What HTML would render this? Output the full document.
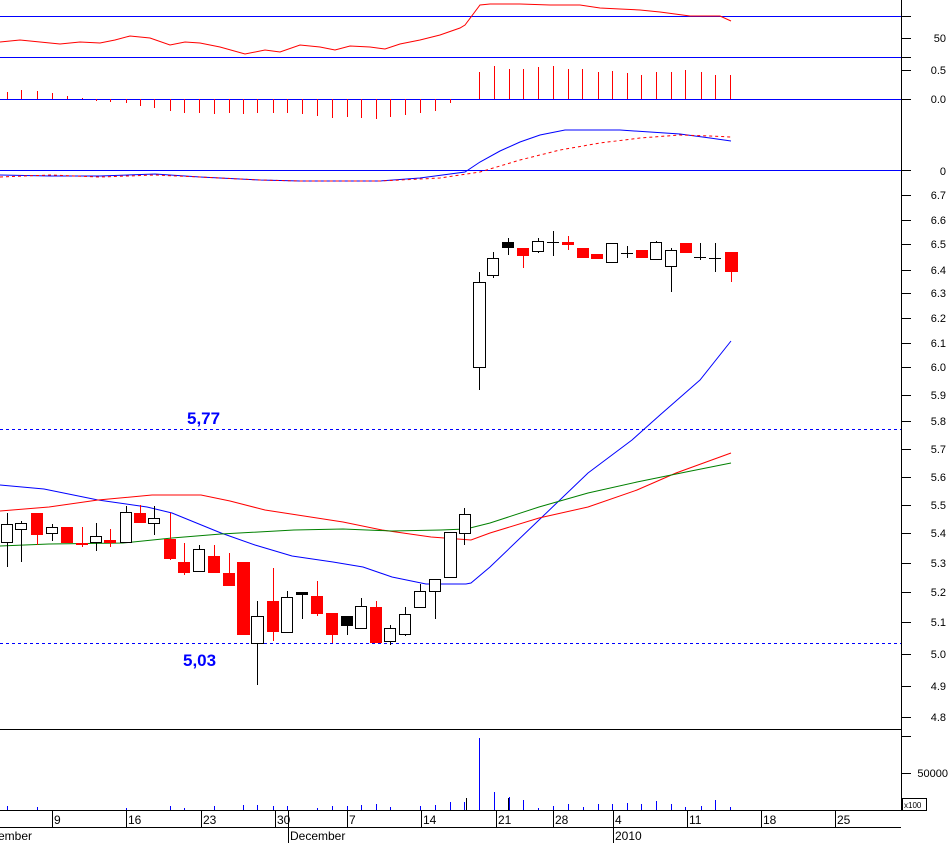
<!DOCTYPE html>
<html><head><meta charset="utf-8"><style>
html,body{margin:0;padding:0;background:#fff;}
svg{display:block;font-family:"Liberation Sans",sans-serif;}
</style></head><body>
<svg width="951" height="843" viewBox="0 0 951 843" xmlns="http://www.w3.org/2000/svg" shape-rendering="crispEdges">
<rect width="951" height="843" fill="#fff"/>
<g stroke="#0000ff" stroke-width="1">
<line x1="0" y1="16.5" x2="901" y2="16.5"/>
<line x1="0" y1="57.5" x2="901" y2="57.5"/>
<line x1="0" y1="99.5" x2="901" y2="99.5"/>
<line x1="0" y1="170.5" x2="901" y2="170.5"/>
</g>
<g stroke="#000" stroke-width="1">
<line x1="0" y1="729.5" x2="901" y2="729.5"/>
<line x1="0" y1="810.5" x2="901" y2="810.5"/>
<line x1="0" y1="827.5" x2="901" y2="827.5"/>
<line x1="901.5" y1="0" x2="901.5" y2="811"/>
</g>
<g stroke="#000">
<line x1="901" y1="16.5" x2="911" y2="16.5"/><line x1="901" y1="38.5" x2="911" y2="38.5"/>
<line x1="901" y1="57.5" x2="911" y2="57.5"/><line x1="901" y1="70.5" x2="911" y2="70.5"/><line x1="901" y1="99.5" x2="911" y2="99.5"/>
<line x1="901" y1="170.5" x2="911" y2="170.5"/>
<line x1="901" y1="195.5" x2="911" y2="195.5"/><line x1="901" y1="220.5" x2="911" y2="220.5"/><line x1="901" y1="244.5" x2="911" y2="244.5"/><line x1="901" y1="270.5" x2="911" y2="270.5"/><line x1="901" y1="293.5" x2="911" y2="293.5"/><line x1="901" y1="318.5" x2="911" y2="318.5"/><line x1="901" y1="343.5" x2="911" y2="343.5"/><line x1="901" y1="367.5" x2="911" y2="367.5"/><line x1="901" y1="395.5" x2="911" y2="395.5"/><line x1="901" y1="421.5" x2="911" y2="421.5"/><line x1="901" y1="449.5" x2="911" y2="449.5"/><line x1="901" y1="477.5" x2="911" y2="477.5"/><line x1="901" y1="505.5" x2="911" y2="505.5"/><line x1="901" y1="533.5" x2="911" y2="533.5"/><line x1="901" y1="563.5" x2="911" y2="563.5"/><line x1="901" y1="592.5" x2="911" y2="592.5"/><line x1="901" y1="622.5" x2="911" y2="622.5"/><line x1="901" y1="654.5" x2="911" y2="654.5"/><line x1="901" y1="686.5" x2="911" y2="686.5"/><line x1="901" y1="717.5" x2="911" y2="717.5"/>
<line x1="901" y1="736.5" x2="911" y2="736.5"/><line x1="901" y1="773.5" x2="911" y2="773.5"/>
</g>
<g font-size="11" fill="#000" text-anchor="end">
<text x="946" y="42">50</text><text x="946" y="74">0.5</text><text x="946" y="103">0.0</text><text x="946" y="175">0</text>
<text x="946" y="199">6.7</text><text x="946" y="224">6.6</text><text x="946" y="248">6.5</text><text x="946" y="274">6.4</text><text x="946" y="297">6.3</text><text x="946" y="322">6.2</text><text x="946" y="347">6.1</text><text x="946" y="371">6.0</text><text x="946" y="399">5.9</text><text x="946" y="425">5.8</text><text x="946" y="453">5.7</text><text x="946" y="481">5.6</text><text x="946" y="509">5.5</text><text x="946" y="537">5.4</text><text x="946" y="567">5.3</text><text x="946" y="596">5.2</text><text x="946" y="626">5.1</text><text x="946" y="658">5.0</text><text x="946" y="690">4.9</text><text x="946" y="721">4.8</text>
<text x="948" y="777">50000</text>
</g>
<rect x="902.5" y="798.5" width="24" height="12" fill="#fff" stroke="#000"/>
<text x="904" y="808" font-size="8">x100</text>
<polyline fill="none" stroke="#ff0000" shape-rendering="auto" points="0,42 20,40 40,42 60,44 80,42 100,43 115,40 130,36 150,38 170,45 185,42 200,43 220,47 245,54 265,50 280,52 300,45 320,47 335,50 350,46 370,47 385,49 400,44 420,40 440,35 460,28 465,25 480,5 490,4 520,4 550,5 580,5 600,8 620,9 640,10 660,12 690,16 720,16 731,21"/>
<g stroke="#ff0000">
<line x1="7.5" y1="92" x2="7.5" y2="99"/><line x1="21.5" y1="90" x2="21.5" y2="99"/><line x1="37.5" y1="91" x2="37.5" y2="99"/><line x1="52.5" y1="93" x2="52.5" y2="99"/><line x1="67.5" y1="96" x2="67.5" y2="99"/><line x1="82.5" y1="98" x2="82.5" y2="99"/>
<line x1="96.5" y1="99" x2="96.5" y2="101"/><line x1="110.5" y1="99" x2="110.5" y2="102"/><line x1="126.5" y1="99" x2="126.5" y2="103"/><line x1="140.5" y1="99" x2="140.5" y2="106"/><line x1="154.5" y1="99" x2="154.5" y2="108"/><line x1="170.5" y1="99" x2="170.5" y2="111"/><line x1="184.5" y1="99" x2="184.5" y2="113"/><line x1="199.5" y1="99" x2="199.5" y2="113"/><line x1="214.5" y1="99" x2="214.5" y2="114"/><line x1="229.5" y1="99" x2="229.5" y2="113"/><line x1="243.5" y1="99" x2="243.5" y2="114"/><line x1="257.5" y1="99" x2="257.5" y2="113"/><line x1="273.5" y1="99" x2="273.5" y2="113"/><line x1="287.5" y1="99" x2="287.5" y2="113"/><line x1="302.5" y1="99" x2="302.5" y2="114"/><line x1="317.5" y1="99" x2="317.5" y2="116"/><line x1="332.5" y1="99" x2="332.5" y2="118"/><line x1="347.5" y1="99" x2="347.5" y2="117"/><line x1="361.5" y1="99" x2="361.5" y2="118"/><line x1="376.5" y1="99" x2="376.5" y2="119"/><line x1="390.5" y1="99" x2="390.5" y2="117"/><line x1="405.5" y1="99" x2="405.5" y2="115"/><line x1="420.5" y1="99" x2="420.5" y2="113"/><line x1="435.5" y1="99" x2="435.5" y2="111"/><line x1="450.5" y1="99" x2="450.5" y2="103"/>
<line x1="479.5" y1="72" x2="479.5" y2="99"/><line x1="494.5" y1="66" x2="494.5" y2="99"/><line x1="509.5" y1="69" x2="509.5" y2="99"/><line x1="523.5" y1="69" x2="523.5" y2="99"/><line x1="538.5" y1="67" x2="538.5" y2="99"/><line x1="553.5" y1="66" x2="553.5" y2="99"/><line x1="568.5" y1="69" x2="568.5" y2="99"/><line x1="582.5" y1="69" x2="582.5" y2="99"/><line x1="598.5" y1="72" x2="598.5" y2="99"/><line x1="612.5" y1="71" x2="612.5" y2="99"/><line x1="627.5" y1="73" x2="627.5" y2="99"/><line x1="641.5" y1="75" x2="641.5" y2="99"/><line x1="656.5" y1="72" x2="656.5" y2="99"/><line x1="671.5" y1="72" x2="671.5" y2="99"/><line x1="685.5" y1="70" x2="685.5" y2="99"/><line x1="701.5" y1="72" x2="701.5" y2="99"/><line x1="715.5" y1="75" x2="715.5" y2="99"/><line x1="730.5" y1="75" x2="730.5" y2="99"/>
</g>
<polyline fill="none" stroke="#0000ff" shape-rendering="auto" points="0,175 50,176 100,176 155,174 200,177 260,180 300,181 380,181 420,178 465,172 480,162 500,151 520,142 540,135 565,130 620,130 650,132 680,134 710,138 731,141"/>
<polyline fill="none" stroke="#ff0000" stroke-dasharray="3,3" shape-rendering="auto" points="0,177 50,175 100,177 155,175 200,177 260,180 300,181 380,181 440,178 480,172 520,160 560,150 600,143 640,138 680,135 710,136 731,137"/>
<g stroke="#0000ff" stroke-dasharray="3,3"><line x1="0" y1="429.5" x2="901" y2="429.5"/><line x1="0" y1="643.5" x2="901" y2="643.5"/></g>
<g font-size="17" font-weight="bold" fill="#0000ff"><text x="187" y="424">5,77</text><text x="183" y="666">5,03</text></g>
<g fill="none" shape-rendering="auto">
<polyline stroke="#0000ff" points="0,485 44,489 98,500 147,507 172,513 221,533 255,545 292,556 333,562 363,567 392,577 426,584 466,584 471,583 490,567 539,520 588,473 632,440 660,415 700,380 731,341"/>
<polyline stroke="#ff0000" points="0,511 49,507 98,500 152,495 201,495 230,501 265,510 304,516 343,522 382,530 431,537 471,540 490,533 539,518 588,507 637,490 676,473 731,453"/>
<polyline stroke="#008000" points="0,546 49,544 123,543 172,538 221,534 294,530 343,529 392,531 441,530 466,529 490,523 539,507 588,493 637,482 686,472 731,463"/>
</g>
<g stroke="#000" stroke-width="1" shape-rendering="crispEdges">
<line x1="7.5" y1="513" x2="7.5" y2="567"/><rect x="1.5" y="524.5" width="11" height="18" fill="#fff"/>
<line x1="21.5" y1="521" x2="21.5" y2="562"/><rect x="15.5" y="523.5" width="11" height="6" fill="#fff"/>
<line x1="52.5" y1="524" x2="52.5" y2="541"/><rect x="46.5" y="527.5" width="11" height="6" fill="#fff"/>
<line x1="96.5" y1="523" x2="96.5" y2="551"/><rect x="90.5" y="536.5" width="11" height="6" fill="#fff"/>
<line x1="126.5" y1="506" x2="126.5" y2="542"/><rect x="120.5" y="512.5" width="11" height="30" fill="#fff"/>
<line x1="154.5" y1="506" x2="154.5" y2="535"/><rect x="148.5" y="518.5" width="11" height="5" fill="#fff"/>
<line x1="199.5" y1="545" x2="199.5" y2="571"/><rect x="193.5" y="549.5" width="11" height="22" fill="#fff"/>
<line x1="257.5" y1="601" x2="257.5" y2="685"/><rect x="251.5" y="616.5" width="12" height="27" fill="#fff"/>
<line x1="287.5" y1="591" x2="287.5" y2="632"/><rect x="281.5" y="597.5" width="11" height="35" fill="#fff"/>
<line x1="302.5" y1="593" x2="302.5" y2="619"/><rect x="296.5" y="592.5" width="11" height="2" fill="#000"/>
<line x1="347.5" y1="616" x2="347.5" y2="635"/><rect x="341.5" y="616.5" width="11" height="9" fill="#000"/>
<line x1="361.5" y1="598" x2="361.5" y2="628"/><rect x="355.5" y="606.5" width="11" height="22" fill="#fff"/>
<line x1="390.5" y1="625" x2="390.5" y2="645"/><rect x="384.5" y="628.5" width="11" height="13" fill="#fff"/>
<line x1="405.5" y1="607" x2="405.5" y2="636"/><rect x="399.5" y="614.5" width="11" height="20" fill="#fff"/>
<line x1="420.5" y1="584" x2="420.5" y2="607"/><rect x="414.5" y="591.5" width="11" height="16" fill="#fff"/>
<line x1="435.5" y1="579" x2="435.5" y2="619"/><rect x="429.5" y="579.5" width="11" height="12" fill="#fff"/>
<line x1="450.5" y1="532" x2="450.5" y2="577"/><rect x="444.5" y="532.5" width="12" height="45" fill="#fff"/>
<line x1="464.5" y1="508" x2="464.5" y2="545"/><rect x="459.5" y="514.5" width="11" height="19" fill="#fff"/>
<line x1="479.5" y1="272" x2="479.5" y2="390"/><rect x="473.5" y="282.5" width="12" height="85" fill="#fff"/>
<line x1="493.5" y1="252" x2="493.5" y2="278"/><rect x="487.5" y="258.5" width="11" height="17" fill="#fff"/>
<line x1="508.5" y1="238" x2="508.5" y2="255"/><rect x="502.5" y="242.5" width="11" height="5" fill="#000"/>
<line x1="538.5" y1="238" x2="538.5" y2="253"/><rect x="532.5" y="241.5" width="11" height="10" fill="#fff"/>
<line x1="553.5" y1="231" x2="553.5" y2="256"/><line x1="547" y1="242.5" x2="559" y2="242.5"/>
<line x1="612.5" y1="243" x2="612.5" y2="262"/><rect x="606.5" y="243.5" width="11" height="19" fill="#fff"/>
<line x1="627.5" y1="246" x2="627.5" y2="258"/><line x1="621" y1="253.5" x2="633" y2="253.5"/>
<line x1="656.5" y1="241" x2="656.5" y2="259"/><rect x="650.5" y="242.5" width="11" height="17" fill="#fff"/>
<line x1="671.5" y1="248" x2="671.5" y2="292"/><rect x="665.5" y="250.5" width="11" height="16" fill="#fff"/>
<line x1="700.5" y1="243" x2="700.5" y2="260"/><line x1="694" y1="257.5" x2="706" y2="257.5"/>
<line x1="715.5" y1="243" x2="715.5" y2="272"/><line x1="709" y1="258.5" x2="721" y2="258.5"/>
</g>
<g fill="#ff0000" stroke="#ff0000">
<line x1="37.5" y1="513" x2="37.5" y2="545"/><rect x="31.5" y="513.5" width="11" height="21"/>
<rect x="61.5" y="527.5" width="11" height="15"/>
<line x1="82.5" y1="527" x2="82.5" y2="547"/><rect x="76.5" y="543.5" width="11" height="1"/>
<line x1="110.5" y1="529" x2="110.5" y2="547"/><rect x="104.5" y="540.5" width="11" height="2"/>
<line x1="140.5" y1="505" x2="140.5" y2="523"/><rect x="134.5" y="513.5" width="11" height="9"/>
<line x1="170.5" y1="513" x2="170.5" y2="560"/><rect x="164.5" y="539.5" width="11" height="19"/>
<line x1="184.5" y1="543" x2="184.5" y2="575"/><rect x="178.5" y="562.5" width="11" height="10"/>
<line x1="214.5" y1="545" x2="214.5" y2="573"/><rect x="208.5" y="556.5" width="11" height="16"/>
<line x1="229.5" y1="553" x2="229.5" y2="586"/><rect x="223.5" y="573.5" width="11" height="12"/>
<rect x="237.5" y="562.5" width="12" height="72"/>
<line x1="273.5" y1="568" x2="273.5" y2="641"/><rect x="267.5" y="601.5" width="11" height="30"/>
<line x1="317.5" y1="581" x2="317.5" y2="616"/><rect x="311.5" y="596.5" width="11" height="17"/>
<line x1="332.5" y1="613" x2="332.5" y2="643"/><rect x="326.5" y="613.5" width="11" height="21"/>
<line x1="376.5" y1="601" x2="376.5" y2="643"/><rect x="370.5" y="607.5" width="11" height="35"/>
<line x1="523.5" y1="248" x2="523.5" y2="268"/><rect x="517.5" y="248.5" width="11" height="7"/>
<line x1="568.5" y1="236" x2="568.5" y2="250"/><rect x="562.5" y="242.5" width="11" height="2"/>
<rect x="577.5" y="248.5" width="11" height="9"/>
<rect x="591.5" y="254.5" width="11" height="4"/>
<rect x="636.5" y="250.5" width="11" height="7"/>
<rect x="680.5" y="243.5" width="11" height="9"/>
<line x1="731.5" y1="252" x2="731.5" y2="282"/><rect x="725.5" y="252.5" width="12" height="19"/>
</g>
<g stroke="#0000ff">
<line x1="7.5" y1="806" x2="7.5" y2="810"/><line x1="37.5" y1="807" x2="37.5" y2="810"/><line x1="126.5" y1="808" x2="126.5" y2="810"/><line x1="170.5" y1="806" x2="170.5" y2="810"/><line x1="184.5" y1="808" x2="184.5" y2="810"/><line x1="214.5" y1="806" x2="214.5" y2="810"/><line x1="243.5" y1="805" x2="243.5" y2="810"/><line x1="257.5" y1="805" x2="257.5" y2="810"/><line x1="273.5" y1="806" x2="273.5" y2="810"/><line x1="287.5" y1="806" x2="287.5" y2="810"/><line x1="317.5" y1="808" x2="317.5" y2="810"/><line x1="332.5" y1="806" x2="332.5" y2="810"/><line x1="347.5" y1="806" x2="347.5" y2="810"/><line x1="361.5" y1="805" x2="361.5" y2="810"/><line x1="376.5" y1="804" x2="376.5" y2="810"/><line x1="390.5" y1="807" x2="390.5" y2="810"/><line x1="420.5" y1="806" x2="420.5" y2="810"/><line x1="435.5" y1="805" x2="435.5" y2="810"/><line x1="450.5" y1="802" x2="450.5" y2="810"/><line x1="464.5" y1="802" x2="464.5" y2="810"/>
<line x1="479.5" y1="738" x2="479.5" y2="810"/><line x1="494.5" y1="792" x2="494.5" y2="810"/><line x1="509.5" y1="797" x2="509.5" y2="810"/><line x1="523.5" y1="800" x2="523.5" y2="810"/><line x1="538.5" y1="808" x2="538.5" y2="810"/><line x1="553.5" y1="806" x2="553.5" y2="810"/><line x1="568.5" y1="804" x2="568.5" y2="810"/><line x1="583.5" y1="807" x2="583.5" y2="810"/><line x1="598.5" y1="804" x2="598.5" y2="810"/><line x1="612.5" y1="804" x2="612.5" y2="810"/><line x1="627.5" y1="803" x2="627.5" y2="810"/><line x1="641.5" y1="804" x2="641.5" y2="810"/><line x1="656.5" y1="801" x2="656.5" y2="810"/><line x1="671.5" y1="804" x2="671.5" y2="810"/><line x1="685.5" y1="807" x2="685.5" y2="810"/><line x1="701.5" y1="806" x2="701.5" y2="810"/><line x1="715.5" y1="800" x2="715.5" y2="810"/><line x1="730.5" y1="807" x2="730.5" y2="810"/>
</g>
<line x1="466.5" y1="798" x2="466.5" y2="810" stroke="#000"/><line x1="508.5" y1="798" x2="508.5" y2="810" stroke="#000"/>
<g stroke="#000">
<line x1="52.5" y1="811" x2="52.5" y2="827"/><line x1="126.5" y1="811" x2="126.5" y2="827"/><line x1="201.5" y1="811" x2="201.5" y2="827"/><line x1="275.5" y1="811" x2="275.5" y2="827"/><line x1="288.5" y1="811" x2="288.5" y2="843"/><line x1="347.5" y1="811" x2="347.5" y2="827"/><line x1="421.5" y1="811" x2="421.5" y2="827"/><line x1="496.5" y1="811" x2="496.5" y2="827"/><line x1="553.5" y1="811" x2="553.5" y2="827"/><line x1="613.5" y1="811" x2="613.5" y2="843"/><line x1="687.5" y1="811" x2="687.5" y2="827"/><line x1="761.5" y1="811" x2="761.5" y2="827"/><line x1="835.5" y1="811" x2="835.5" y2="827"/>
</g>
<g font-size="12" fill="#000">
<text x="54" y="824">9</text><text x="128" y="824">16</text><text x="203" y="824">23</text><text x="277" y="824">30</text><text x="349" y="824">7</text><text x="423" y="824">14</text><text x="498" y="824">21</text><text x="555" y="824">28</text><text x="615" y="824">4</text><text x="689" y="824">11</text><text x="763" y="824">18</text><text x="837" y="824">25</text>
<text x="-8" y="840">vember</text><text x="290" y="840">December</text><text x="615" y="840">2010</text>
</g>
</svg>
</body></html>
